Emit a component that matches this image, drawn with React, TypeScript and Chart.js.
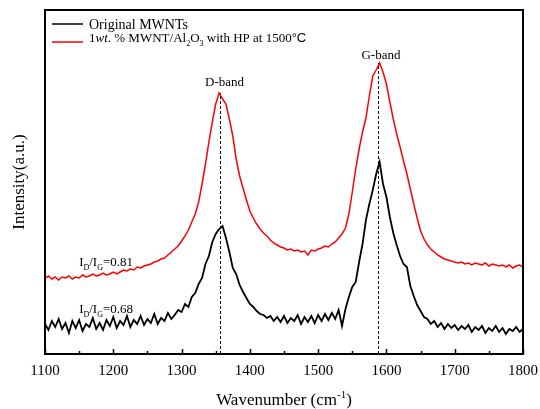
import React, { useEffect, useRef } from "react";
import { Chart, registerables } from "chart.js";

Chart.register(...registerables);

// Raman shift grid (cm^-1): 1100 .. 1800, one reading every 5 cm^-1
const wavenumberStart = 1100;
const wavenumberStep = 5;

// Original MWNTs (black), intensity in arbitrary units
const originalMWNTs = [
  30, 24, 33, 27, 35, 25, 31, 21, 33, 26,
  34, 23, 30, 27, 36, 25, 31, 24, 34, 28,
  37, 26, 33, 29, 38, 27, 34, 30, 38, 29,
  35, 31, 40, 30, 36, 33, 41, 35, 39, 44,
  42, 50, 47, 57, 61, 70, 76, 90, 98, 112,
  120, 125, 128, 116, 102, 86, 80, 69, 62, 56,
  50, 47, 43, 40, 39, 36, 38, 33, 37, 32,
  38, 31, 36, 33, 39, 30, 37, 32, 38, 31,
  39, 33, 40, 34, 41, 35, 44, 28, 45, 57,
  67, 72, 92, 110, 134, 150, 164, 180, 192, 170,
  157, 137, 121, 109, 98, 90, 87, 68, 58, 49,
  43, 37, 35, 30, 33, 27, 31, 25, 30, 26,
  29, 24, 28, 25, 29, 22, 27, 24, 28, 21,
  26, 23, 28, 22, 26, 20, 25, 23, 27, 22,
  25,
];

// 1wt.% MWNT/Al2O3 with HP at 1500 °C (red)
const compositeHP = [
  76, 78, 75, 77, 74, 77, 76, 78, 75, 77,
  76, 79, 77, 78, 80, 78, 79, 81, 79, 80,
  82, 80, 82, 84, 83, 85, 84, 87, 86, 88,
  89, 90, 92, 93, 95, 96, 99, 102, 105, 108,
  113, 118, 124, 132, 140, 152, 170, 190, 212, 232,
  250, 261, 255, 250, 235, 218, 195, 178, 166, 154,
  143, 136, 130, 125, 121, 118, 114, 111, 109, 107,
  106, 104, 105, 103, 104, 102, 103, 99, 104, 103,
  105, 106, 108, 107, 110, 112, 116, 120, 126, 140,
  162, 185, 205, 222, 236, 258, 278, 284, 291, 282,
  270, 252, 235, 220, 207, 193, 180, 165, 150, 136,
  123, 115, 109, 105, 102, 99, 97, 95, 94, 93,
  92, 91, 92, 90, 91, 89, 91, 90, 89, 91,
  88, 90, 89, 88, 89, 87, 89, 86, 88, 89,
  87,
];

const seriesLabels = ["Original MWNTs", "1wt. % MWNT/Al2O3 with HP at 1500°C"];
const seriesColors = ["#000000", "#ff0000"];
const seriesWidths = [1.8, 1.5];

const xMin = 1100;
const xMax = 1800;
const xTickStep = 100;
const xMinorStep = 50;

const bandNames = ["D-band", "G-band"];
const bandCenters = [1357, 1588];
const bandLabelX = [1363, 1592];
const bandLabelY = [268, 295];

const ratioValues = ["0.81", "0.68"];
const ratioLabelX = [1150, 1150];
const ratioLabelY = [88, 41];

const SERIF = '"Liberation Serif", "Times New Roman", serif';
const SANS = '"Liberation Sans", Arial, sans-serif';

type Seg = { t: string; sub?: boolean; sup?: boolean; italic?: boolean; sans?: boolean };

function segFont(s: Seg, size: number) {
  const sz = s.sub || s.sup ? Math.round(size * 0.65) : size;
  return `${s.italic ? "italic " : ""}${sz}px ${s.sans ? SANS : SERIF}`;
}

function drawRich(
  ctx: CanvasRenderingContext2D,
  x: number,
  y: number,
  segs: Seg[],
  size: number,
  align: "left" | "center" = "left"
) {
  ctx.textBaseline = "alphabetic";
  ctx.textAlign = "left";
  let total = 0;
  const widths = segs.map((s) => {
    ctx.font = segFont(s, size);
    const w = ctx.measureText(s.t).width;
    total += w;
    return w;
  });
  let cx = align === "center" ? x - total / 2 : x;
  segs.forEach((s, i) => {
    ctx.font = segFont(s, size);
    const dy = s.sub ? size * 0.28 : s.sup ? -size * 0.42 : 0;
    ctx.fillText(s.t, cx, y + dy);
    cx += widths[i];
  });
}

const decorPlugin = {
  id: "decor",
  afterDatasetsDraw(chart: any) {
    const { ctx, chartArea: a, scales } = chart;
    const xs = scales.x;
    const ys = scales.y;
    ctx.save();
    ctx.fillStyle = "#000";
    ctx.strokeStyle = "#000";

    // dashed band markers, from axis up to red peak
    ctx.setLineDash([3, 2]);
    ctx.lineWidth = 1;
    bandCenters.forEach((c) => {
      let peak = 0;
      compositeHP.forEach((v, i) => {
        const wn = wavenumberStart + i * wavenumberStep;
        if (Math.abs(wn - c) <= 6 && v > peak) peak = v;
      });
      const px = Math.round(xs.getPixelForValue(c)) + 0.5;
      ctx.beginPath();
      ctx.moveTo(px, a.bottom);
      ctx.lineTo(px, ys.getPixelForValue(peak));
      ctx.stroke();
    });
    ctx.setLineDash([]);

    // band labels
    bandNames.forEach((n, i) => {
      drawRich(ctx, xs.getPixelForValue(bandLabelX[i]), ys.getPixelForValue(bandLabelY[i]), [{ t: n }], 13, "center");
    });

    // ratio labels
    ratioValues.forEach((r, i) => {
      drawRich(
        ctx,
        xs.getPixelForValue(ratioLabelX[i]),
        ys.getPixelForValue(ratioLabelY[i]),
        [{ t: "I" }, { t: "D", sub: true }, { t: "/I" }, { t: "G", sub: true }, { t: "=" + r }],
        13
      );
    });

    // frame
    ctx.lineWidth = 2;
    ctx.strokeRect(a.left, a.top, a.right - a.left, a.bottom - a.top);

    // inward ticks on bottom axis
    ctx.lineWidth = 1.5;
    for (let v = xMin; v <= xMax; v += xMinorStep) {
      const px = Math.round(xs.getPixelForValue(v)) + 0.5;
      const len = (v - xMin) % xTickStep === 0 ? 5 : 3;
      ctx.beginPath();
      ctx.moveTo(px, a.bottom);
      ctx.lineTo(px, a.bottom - len);
      ctx.stroke();
    }

    // x-axis title with superscript
    drawRich(
      ctx,
      (a.left + a.right) / 2,
      405,
      [{ t: "Wavenumber (cm" }, { t: "-1", sup: true }, { t: ")" }],
      17,
      "center"
    );

    // legend
    const legendSegs: Seg[][] = [
      [{ t: "Original MWNTs" }],
      [
        { t: "1" },
        { t: "wt", italic: true },
        { t: ". % MWNT/Al" },
        { t: "2", sub: true },
        { t: "O" },
        { t: "3", sub: true },
        { t: " with HP at 1500" },
        { t: "°C", sans: true },
      ],
    ];
    const legendSizes = [14, 13];
    const lineY = [a.top + 14, a.top + 32];
    const textY = [a.top + 19, a.top + 32];
    chart.data.datasets.forEach((ds: any, i: number) => {
      ctx.strokeStyle = ds.borderColor;
      ctx.lineWidth = 1.5;
      ctx.beginPath();
      ctx.moveTo(a.left + 7, lineY[i]);
      ctx.lineTo(a.left + 38, lineY[i]);
      ctx.stroke();
      ctx.fillStyle = "#000";
      drawRich(ctx, a.left + 44, textY[i], legendSegs[i], legendSizes[i]);
    });

    ctx.restore();
  },
};

export default function App() {
  const ref = useRef<HTMLCanvasElement | null>(null);

  useEffect(() => {
    document.body.style.margin = "0";
    const canvas = ref.current;
    if (!canvas) return;
    const toPoints = (arr: number[]) =>
      arr.map((v, i) => ({ x: wavenumberStart + i * wavenumberStep, y: v }));

    const chart = new Chart(canvas, {
      type: "line",
      data: {
        datasets: [originalMWNTs, compositeHP].map((arr, i) => ({
          label: seriesLabels[i],
          data: toPoints(arr),
          borderColor: seriesColors[i],
          borderWidth: seriesWidths[i],
          pointRadius: 0,
          tension: 0,
        })),
      },
      options: {
        animation: false,
        responsive: false,
        devicePixelRatio: 1,
        layout: { padding: { top: 10, right: 17, left: 0, bottom: 0 } },
        plugins: { legend: { display: false }, tooltip: { enabled: false } },
        scales: {
          x: {
            type: "linear",
            min: xMin,
            max: xMax,
            grid: { display: false, drawTicks: false },
            border: { display: false },
            ticks: {
              stepSize: xTickStep,
              color: "#000",
              padding: 8,
              font: { family: SERIF, size: 15 },
              maxRotation: 0,
              callback: (v: any) => String(v),
            },
            afterFit: (s: any) => {
              s.height = 55;
              s.paddingLeft = 0;
              s.paddingRight = 0;
            },
          },
          y: {
            min: 0,
            max: 344,
            grid: { display: false, drawTicks: false },
            border: { display: false },
            ticks: { display: false },
            title: {
              display: true,
              text: "Intensity(a.u.)",
              color: "#000",
              font: { family: SERIF, size: 17 },
              padding: { top: 9, bottom: 0 },
            },
            afterFit: (s: any) => {
              s.width = 45;
              s.paddingTop = 0;
              s.paddingBottom = 0;
            },
          },
        },
      },
      plugins: [decorPlugin],
    } as any);
    return () => chart.destroy();
  }, []);

  return (
    <div style={{ width: 540, height: 409, background: "#fff" }}>
      <canvas ref={ref} width={540} height={409} />
    </div>
  );
}
